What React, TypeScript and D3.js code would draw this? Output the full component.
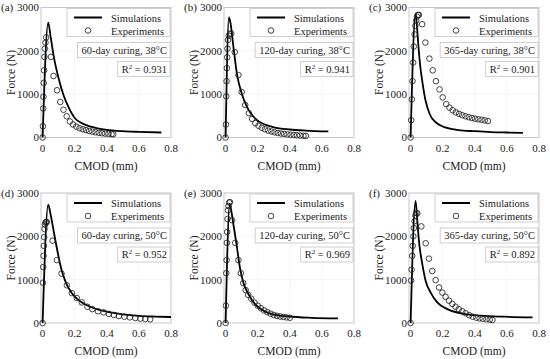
import { useEffect, useRef } from "react"
import * as d3 from "d3"

type Pt = [number, number]

// axis ticks shared by all six panels
const xTicks = [0, 0.2, 0.4, 0.6, 0.8]
const yTicks = [0, 1000, 2000, 3000]

// (a) 60-day curing, 38°C
const simA: Pt[] = [[0, 0], [0.035, 2650], [0.05, 2320], [0.07, 1860], [0.1, 1360], [0.13, 980], [0.16, 710], [0.2, 450], [0.25, 320], [0.3, 250], [0.4, 175], [0.5, 145], [0.6, 130], [0.74, 115]]
const expA: Pt[] = [[0, 0], [0.002, 260], [0.004, 670], [0.005, 940], [0.007, 1260], [0.009, 1550], [0.011, 1860], [0.014, 2050], [0.018, 2190], [0.022, 2310],
  [0.052, 1860], [0.068, 1420], [0.09, 1090], [0.11, 820], [0.13, 640], [0.15, 490], [0.17, 370], [0.19, 300], [0.21, 250], [0.23, 215], [0.25, 190], [0.27, 170], [0.29, 150], [0.31, 135], [0.33, 120], [0.35, 108], [0.37, 98], [0.39, 90], [0.41, 83], [0.43, 78], [0.44, 75]]

// (b) 120-day curing, 38°C
const simB: Pt[] = [[0, 0], [0.021, 2770], [0.03, 2650], [0.05, 2050], [0.07, 1480], [0.1, 1020], [0.13, 730], [0.16, 540], [0.2, 390], [0.25, 290], [0.3, 235], [0.4, 185], [0.5, 160], [0.64, 140]]
const expB: Pt[] = [[0, 0], [0.002, 300], [0.004, 950], [0.006, 1300], [0.008, 1600], [0.01, 1850], [0.012, 2050], [0.015, 2250], [0.02, 2350], [0.027, 2390], [0.035, 2400],
  [0.057, 1970], [0.08, 1440], [0.1, 1050], [0.122, 750], [0.145, 560], [0.165, 430], [0.185, 330], [0.205, 270], [0.225, 225], [0.245, 190], [0.265, 160], [0.285, 140], [0.305, 120], [0.325, 105], [0.345, 92], [0.365, 82], [0.385, 72], [0.405, 64], [0.425, 57], [0.445, 50], [0.465, 45], [0.485, 40], [0.5, 36]]

// (c) 365-day curing, 38°C
const simC: Pt[] = [[0, 0], [0.031, 2860], [0.04, 2550], [0.05, 2050], [0.06, 1650], [0.072, 1320], [0.092, 870], [0.12, 530], [0.16, 340], [0.2, 255], [0.25, 200], [0.3, 170], [0.4, 145], [0.5, 125], [0.6, 115], [0.7, 108]]
const expC: Pt[] = [[0, 0], [0.004, 400], [0.008, 880], [0.012, 1300], [0.016, 1730], [0.02, 2100], [0.025, 2380], [0.03, 2580], [0.035, 2700], [0.04, 2790], [0.046, 2830], [0.052, 2830],
  [0.072, 2615], [0.092, 2190], [0.117, 1820], [0.138, 1550], [0.158, 1300], [0.18, 1110], [0.2, 925], [0.222, 770], [0.242, 690], [0.262, 630], [0.282, 580], [0.302, 545], [0.322, 515], [0.342, 490], [0.362, 468], [0.382, 450], [0.402, 435], [0.422, 420], [0.442, 408], [0.462, 395], [0.482, 380]]

// (d) 60-day curing, 50°C
const simD: Pt[] = [[0, 0], [0.035, 2730], [0.05, 2500], [0.065, 2200], [0.085, 1800], [0.115, 1270], [0.145, 930], [0.18, 700], [0.22, 540], [0.27, 420], [0.32, 340], [0.4, 260], [0.5, 200], [0.6, 165], [0.7, 148], [0.8, 138]]
const expD: Pt[] = [[0, 0], [0.002, 930], [0.004, 1290], [0.006, 1550], [0.008, 1780], [0.01, 1980], [0.012, 2170], [0.015, 2270], [0.018, 2320], [0.022, 2330], [0.026, 2330],
  [0.062, 1900], [0.089, 1450], [0.118, 1140], [0.151, 870], [0.182, 690], [0.213, 575], [0.244, 475], [0.279, 375], [0.31, 320], [0.345, 270], [0.38, 245], [0.413, 210], [0.444, 185], [0.475, 160], [0.51, 145], [0.543, 130], [0.578, 115], [0.609, 100], [0.64, 92], [0.67, 85]]

// (e) 120-day curing, 50°C
const simE: Pt[] = [[0, 0], [0.026, 2750], [0.035, 2600], [0.051, 2220], [0.067, 1840], [0.091, 1240], [0.111, 930], [0.142, 670], [0.182, 440], [0.233, 290], [0.294, 200], [0.395, 150], [0.536, 120], [0.7, 105]]
const expE: Pt[] = [[0, 0], [0.002, 400], [0.004, 1150], [0.006, 1450], [0.008, 1850], [0.01, 2100], [0.012, 2400], [0.015, 2600], [0.018, 2700], [0.022, 2780], [0.027, 2790],
  [0.04, 2370], [0.06, 1850], [0.08, 1450], [0.095, 1150], [0.11, 920], [0.125, 760], [0.14, 650], [0.16, 560], [0.18, 470], [0.2, 400], [0.22, 340], [0.24, 290], [0.26, 250], [0.28, 215], [0.3, 185], [0.32, 165], [0.34, 150], [0.36, 140], [0.38, 130], [0.4, 120]]

// (f) 365-day curing, 50°C
const simF: Pt[] = [[0, 0], [0.031, 2820], [0.04, 2450], [0.052, 1890], [0.073, 1360], [0.094, 970], [0.125, 700], [0.166, 475], [0.229, 320], [0.333, 210], [0.437, 170], [0.58, 145], [0.76, 128]]
const expF: Pt[] = [[0, 0], [0.003, 980], [0.006, 1230], [0.01, 1550], [0.013, 1780], [0.017, 2000], [0.02, 2190], [0.025, 2350], [0.03, 2480], [0.036, 2540], [0.042, 2530],
  [0.067, 2230], [0.094, 1840], [0.114, 1485], [0.135, 1200], [0.156, 990], [0.177, 820], [0.198, 700], [0.218, 605], [0.239, 515], [0.26, 440], [0.28, 375], [0.3, 320], [0.322, 270], [0.343, 225], [0.365, 180], [0.387, 145], [0.41, 122], [0.43, 107], [0.45, 98], [0.472, 85], [0.493, 77], [0.51, 70]]

const panelLetters = ["(a)", "(b)", "(c)", "(d)", "(e)", "(f)"]
const curingLabels = ["60-day curing, 38°C", "120-day curing, 38°C", "365-day curing, 38°C", "60-day curing, 50°C", "120-day curing, 50°C", "365-day curing, 50°C"]
const r2Values = ["0.931", "0.941", "0.901", "0.952", "0.969", "0.892"]
const simSeries = [simA, simB, simC, simD, simE, simF]
const expSeries = [expA, expB, expC, expD, expE, expF]

const FONT = "Liberation Serif, Times New Roman, serif"
const colLeft = [41, 224, 409]
const rowTop = [7.5, 193]
const plotW = 130
const plotH = 130
const tickSize = 11
const labelSize = 11.5
const boxSize = 10.5

const App = () => {
  const svgRef = useRef<SVGSVGElement>(null)

  useEffect(() => {
    const svg = d3.select(svgRef.current)
    svg.selectAll("*").remove()
    svg.append("rect").attr("width", 550).attr("height", 359).attr("fill", "#fff")

    simSeries.forEach((sim, i) => {
      const left = colLeft[i % 3]
      const top = rowTop[Math.floor(i / 3)]
      const right = left + plotW
      const bottom = top + plotH

      const x = d3.scaleLinear().domain([-0.01, 0.8]).range([left, right])
      const y = d3.scaleLinear().domain([0, 3000]).range([bottom, top])

      const g = svg.append("g").attr("fill", "#1a1a1a")
      const txt = (sel: any, size: number) => sel.append("text")
        .style("font-family", FONT).style("font-size", `${size}px`)

      // faint grid
      g.append("g").attr("stroke", "#efefef").attr("stroke-width", 0.6)
        .selectAll("line").data(xTicks.slice(1)).join("line")
        .attr("x1", d => x(d)).attr("x2", d => x(d)).attr("y1", top).attr("y2", bottom)
      g.append("g").attr("stroke", "#efefef").attr("stroke-width", 0.6)
        .selectAll("line").data(yTicks.slice(1)).join("line")
        .attr("x1", left).attr("x2", right).attr("y1", d => y(d)).attr("y2", d => y(d))

      // axes box
      g.append("rect")
        .attr("x", left).attr("y", top).attr("width", plotW).attr("height", plotH)
        .attr("fill", "none").attr("stroke", "#c4c4c4").attr("stroke-width", 0.9)

      // tick labels
      xTicks.forEach(t => {
        txt(g, tickSize).attr("text-anchor", "middle").attr("x", x(t)).attr("y", bottom + 14).text(d3.format("")(t))
      })
      yTicks.forEach(t => {
        txt(g, tickSize).attr("text-anchor", "end").attr("x", left - 2).attr("y", y(t)).attr("dy", "0.35em").text(t)
      })

      // axis titles + panel letter
      txt(g, labelSize).attr("text-anchor", "middle")
        .attr("x", (left + right) / 2).attr("y", bottom + 32)
        .text("CMOD (mm)")
      txt(g, labelSize).attr("text-anchor", "middle")
        .attr("transform", `translate(${left - 26},${(top + bottom) / 2}) rotate(-90)`)
        .text("Force (N)")
      txt(g, tickSize).attr("x", left - 40).attr("y", y(3000)).attr("dy", "0.35em")
        .text(panelLetters[i])

      // simulation line
      const line = d3.line<Pt>().x(d => x(d[0])).y(d => y(d[1])).curve(d3.curveMonotoneX)
      g.append("path").attr("d", line(sim))
        .attr("fill", "none").attr("stroke", "#000").attr("stroke-width", 1.8)

      // experiment markers
      g.append("g").attr("fill", "none").attr("stroke", "#222").attr("stroke-width", 0.85)
        .selectAll("circle").data(expSeries[i]).join("circle")
        .attr("cx", d => x(d[0])).attr("cy", d => y(d[1])).attr("r", 2.8)

      // legend
      const lgW = 103
      const lg = g.append("g")
      lg.append("rect").attr("x", right - lgW - 1).attr("y", top + 1).attr("width", lgW).attr("height", 28)
        .attr("fill", "#fff").attr("stroke", "#c4c4c4").attr("stroke-width", 0.8)
      lg.append("line").attr("x1", right - 97).attr("x2", right - 69).attr("y1", top + 10).attr("y2", top + 10)
        .attr("stroke", "#000").attr("stroke-width", 2)
      lg.append("circle").attr("cx", right - 83).attr("cy", top + 23).attr("r", 2.8)
        .attr("fill", "none").attr("stroke", "#222").attr("stroke-width", 0.85)
      txt(lg, boxSize).attr("x", right - 60).attr("y", top + 14).text("Simulations")
      txt(lg, boxSize).attr("x", right - 60).attr("y", top + 27).text("Experiments")

      // curing condition box
      const cg = g.append("g")
      const ct = txt(cg, boxSize).attr("text-anchor", "end").attr("x", right - 4).attr("y", top + 46)
        .text(curingLabels[i])
      const cw = (ct.node() as SVGTextElement).getComputedTextLength()
      cg.insert("rect", "text").attr("x", right - cw - 8).attr("y", top + 35).attr("width", cw + 7).attr("height", 15)
        .attr("fill", "#fff").attr("stroke", "#c4c4c4").attr("stroke-width", 0.8)

      // R² box
      const rg = g.append("g")
      const rt = txt(rg, boxSize).attr("text-anchor", "end").attr("x", right - 4).attr("y", top + 65)
      rt.append("tspan").text("R")
      rt.append("tspan").style("font-size", "7px").attr("dy", -4).text("2")
      rt.append("tspan").attr("dy", 4).text(` = ${r2Values[i]}`)
      const rw = (rt.node() as SVGTextElement).getComputedTextLength()
      rg.insert("rect", "text").attr("x", right - rw - 8).attr("y", top + 54).attr("width", rw + 7).attr("height", 15)
        .attr("fill", "#fff").attr("stroke", "#c4c4c4").attr("stroke-width", 0.8)
    })
  }, [])

  return (
    <svg ref={svgRef} width={550} height={359} style={{ position: "absolute", left: 0, top: 0 }} />
  )
}

export default App
